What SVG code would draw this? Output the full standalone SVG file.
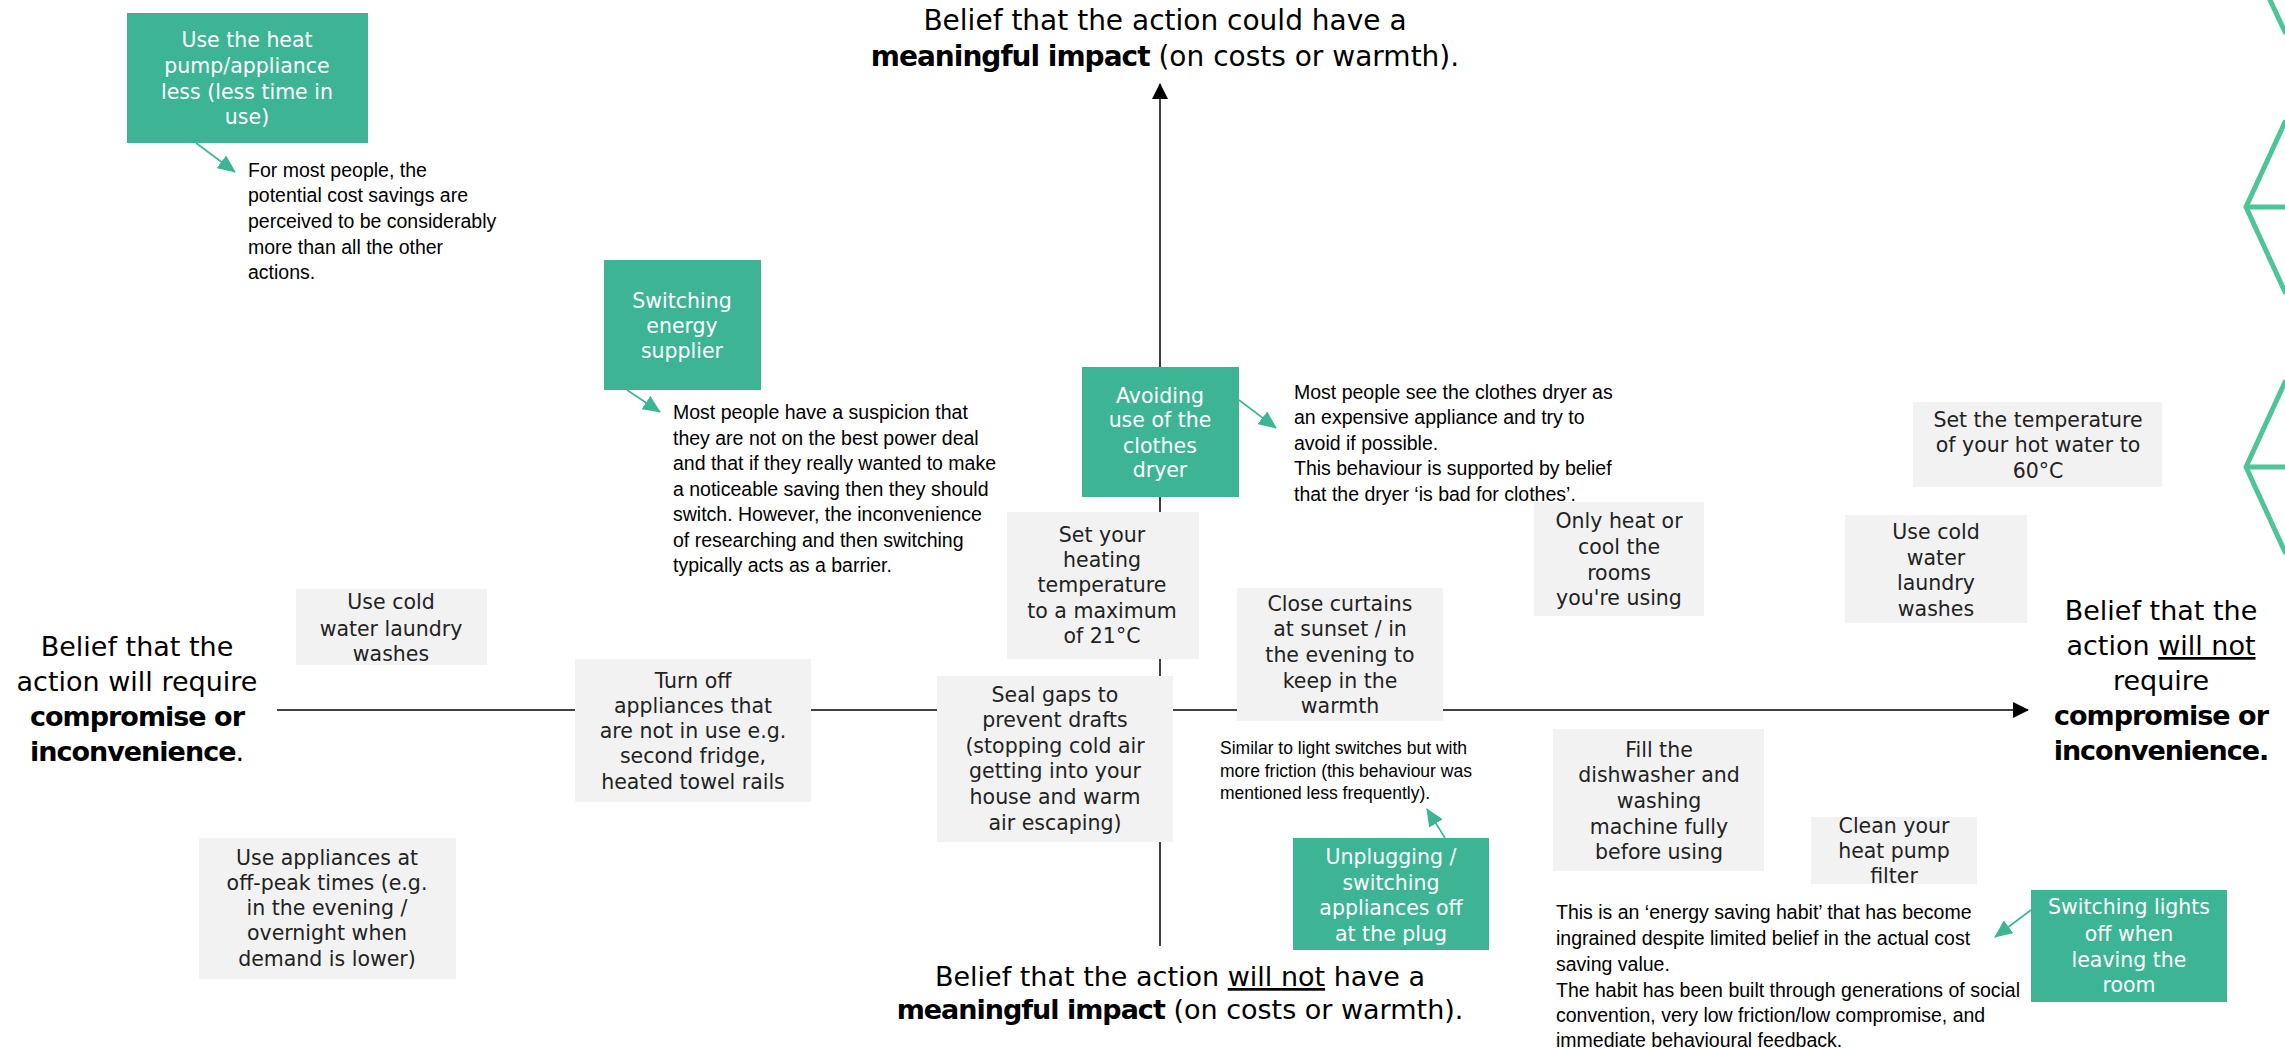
<svg xmlns="http://www.w3.org/2000/svg" width="2285" height="1049" viewBox="0 0 2285 1049">
<style>
.gbox{fill:#3DB595}
.nbox{fill:#F2F2F2}
.bt{font-family:"DejaVu Sans",sans-serif;font-size:20.5px;text-anchor:middle;fill:#222}
.gt{font-family:"DejaVu Sans",sans-serif;font-size:20.5px;text-anchor:middle;fill:#FFFFFF}
.ann{font-family:"Liberation Sans",Arial,sans-serif;font-size:19.5px;fill:#000}
.ann2{font-family:"Liberation Sans",Arial,sans-serif;font-size:17.5px;fill:#000}
.ax{font-family:"DejaVu Sans",sans-serif;font-size:27px;text-anchor:middle;fill:#000}
.axt{font-size:28px}
.b{font-weight:bold;letter-spacing:-1px}
.u{text-decoration:underline}
.axis{stroke:#404040;stroke-width:2;fill:none}
.conn{stroke:#3DB595;stroke-width:1.6;fill:none}
.hex{stroke:#4FC496;stroke-width:5;fill:none;stroke-linejoin:round;stroke-linecap:round}
</style>
<defs>
<marker id="ah" markerUnits="userSpaceOnUse" markerWidth="16" markerHeight="16" refX="15" refY="8" orient="auto">
<path d="M0,0 L16,8 L0,16 z" fill="#000"/>
</marker>
<marker id="gh" markerUnits="userSpaceOnUse" markerWidth="18" markerHeight="16" refX="17" refY="8" orient="auto">
<path d="M0,0 L18,8 L0,16 z" fill="#3DB595"/>
</marker>
</defs>
<rect width="2285" height="1049" fill="#FFFFFF"/>

<g id="decoration">
<path class="hex" d="M2270,0 L2285,32"/>
<path class="hex" d="M2285,122 L2246,207 L2285,292 M2246,207 L2285,207"/>
<path class="hex" d="M2285,382 L2246,467 L2285,552 M2246,467 L2285,467"/>
</g>

<g id="axes">
<line class="axis" x1="1160" y1="946" x2="1160" y2="84" marker-end="url(#ah)"/>
<line class="axis" x1="277" y1="710" x2="2028" y2="710" marker-end="url(#ah)"/>
</g>

<g id="label-top">
<text class="ax axt" x="1165" y="30">Belief that the action could have a</text>
<text class="ax axt" x="1165" y="66"><tspan class="b">meaningful impact</tspan> (on costs or warmth).</text>
</g>
<g id="label-bottom">
<text class="ax" x="1180" y="986">Belief that the action <tspan class="u">will not</tspan> have a</text>
<text class="ax" x="1180" y="1019"><tspan class="b">meaningful impact</tspan> (on costs or warmth).</text>
</g>
<g id="label-left">
<text class="ax" x="137" y="656">Belief that the</text>
<text class="ax" x="137" y="691">action will require</text>
<text class="ax b" x="137" y="726">compromise or</text>
<text class="ax" x="137" y="761"><tspan class="b">inconvenience</tspan>.</text>
</g>
<g id="label-right">
<text class="ax" x="2161" y="620">Belief that the</text>
<text class="ax" x="2161" y="655">action <tspan class="u">will not</tspan></text>
<text class="ax" x="2161" y="690">require</text>
<text class="ax b" x="2161" y="725">compromise or</text>
<text class="ax b" x="2161" y="760">inconvenience.</text>
</g>

<g id="connectors">
<line class="conn" x1="196" y1="143" x2="235" y2="172" marker-end="url(#gh)"/>
<line class="conn" x1="627" y1="390" x2="660" y2="412" marker-end="url(#gh)"/>
<line class="conn" x1="1239" y1="400" x2="1276" y2="428" marker-end="url(#gh)"/>
<line class="conn" x1="1445" y1="838" x2="1427" y2="809" marker-end="url(#gh)"/>
<line class="conn" x1="2031" y1="910" x2="1995" y2="937" marker-end="url(#gh)"/>
</g>

<g id="n-heatpump-less">
<rect class="gbox" x="127" y="13" width="241" height="130"/>
<text class="gt" x="247" y="47">Use the heat</text>
<text class="gt" x="247" y="73">pump/appliance</text>
<text class="gt" x="247" y="99">less (less time in</text>
<text class="gt" x="247" y="124">use)</text>
</g>
<g id="t-heatpump-less">
<text class="ann" x="248" y="177">For most people, the</text>
<text class="ann" x="248" y="202">potential cost savings are</text>
<text class="ann" x="248" y="228">perceived to be considerably</text>
<text class="ann" x="248" y="254">more than all the other</text>
<text class="ann" x="248" y="279">actions.</text>
</g>

<g id="n-switch-supplier">
<rect class="gbox" x="604" y="260" width="157" height="130"/>
<text class="gt" x="682" y="308">Switching</text>
<text class="gt" x="682" y="333">energy</text>
<text class="gt" x="682" y="358">supplier</text>
</g>
<g id="t-switch-supplier">
<text class="ann" x="673" y="419">Most people have a suspicion that</text>
<text class="ann" x="673" y="445">they are not on the best power deal</text>
<text class="ann" x="673" y="470">and that if they really wanted to make</text>
<text class="ann" x="673" y="496">a noticeable saving then they should</text>
<text class="ann" x="673" y="521">switch. However, the inconvenience</text>
<text class="ann" x="673" y="547">of researching and then switching</text>
<text class="ann" x="673" y="572">typically acts as a barrier.</text>
</g>

<g id="n-dryer">
<rect class="gbox" x="1082" y="367" width="157" height="130"/>
<text class="gt" x="1160" y="403">Avoiding</text>
<text class="gt" x="1160" y="427">use of the</text>
<text class="gt" x="1160" y="453">clothes</text>
<text class="gt" x="1160" y="477">dryer</text>
</g>
<g id="t-dryer">
<text class="ann" x="1294" y="399">Most people see the clothes dryer as</text>
<text class="ann" x="1294" y="424">an expensive appliance and try to</text>
<text class="ann" x="1294" y="450">avoid if possible.</text>
<text class="ann" x="1294" y="475">This behaviour is supported by belief</text>
<text class="ann" x="1294" y="501">that the dryer ‘is bad for clothes’.</text>
</g>

<g id="n-heating-21">
<rect class="nbox" x="1007" y="512" width="192" height="147"/>
<text class="bt" x="1102" y="542">Set your</text>
<text class="bt" x="1102" y="567">heating</text>
<text class="bt" x="1102" y="592">temperature</text>
<text class="bt" x="1102" y="618">to a maximum</text>
<text class="bt" x="1102" y="643">of 21°C</text>
</g>

<g id="n-seal-gaps">
<rect class="nbox" x="937" y="676" width="236" height="166"/>
<text class="bt" x="1055" y="702">Seal gaps to</text>
<text class="bt" x="1055" y="727">prevent drafts</text>
<text class="bt" x="1055" y="753">(stopping cold air</text>
<text class="bt" x="1055" y="778">getting into your</text>
<text class="bt" x="1055" y="804">house and warm</text>
<text class="bt" x="1055" y="830">air escaping)</text>
</g>

<g id="n-curtains">
<rect class="nbox" x="1237" y="588" width="206" height="133"/>
<text class="bt" x="1340" y="611">Close curtains</text>
<text class="bt" x="1340" y="636">at sunset / in</text>
<text class="bt" x="1340" y="662">the evening to</text>
<text class="bt" x="1340" y="688">keep in the</text>
<text class="bt" x="1340" y="713">warmth</text>
</g>

<g id="t-unplug">
<text class="ann2" x="1220" y="754">Similar to light switches but with</text>
<text class="ann2" x="1220" y="777">more friction (this behaviour was</text>
<text class="ann2" x="1220" y="799">mentioned less frequently).</text>
</g>
<g id="n-unplug">
<rect class="gbox" x="1293" y="838" width="196" height="112"/>
<text class="gt" x="1391" y="864">Unplugging /</text>
<text class="gt" x="1391" y="890">switching</text>
<text class="gt" x="1391" y="915">appliances off</text>
<text class="gt" x="1391" y="941">at the plug</text>
</g>

<g id="n-only-heat">
<rect class="nbox" x="1534" y="502" width="170" height="114"/>
<text class="bt" x="1619" y="528">Only heat or</text>
<text class="bt" x="1619" y="554">cool the</text>
<text class="bt" x="1619" y="580">rooms</text>
<text class="bt" x="1619" y="605">you're using</text>
</g>

<g id="n-hot-water-60">
<rect class="nbox" x="1913" y="402" width="249" height="85"/>
<text class="bt" x="2038" y="427">Set the temperature</text>
<text class="bt" x="2038" y="452">of your hot water to</text>
<text class="bt" x="2038" y="478">60°C</text>
</g>

<g id="n-cold-wash-right">
<rect class="nbox" x="1845" y="515" width="182" height="108"/>
<text class="bt" x="1936" y="539">Use cold</text>
<text class="bt" x="1936" y="565">water</text>
<text class="bt" x="1936" y="590">laundry</text>
<text class="bt" x="1936" y="616">washes</text>
</g>

<g id="n-cold-wash-left">
<rect class="nbox" x="296" y="589" width="191" height="76"/>
<text class="bt" x="391" y="609">Use cold</text>
<text class="bt" x="391" y="636">water laundry</text>
<text class="bt" x="391" y="661">washes</text>
</g>

<g id="n-turn-off">
<rect class="nbox" x="575" y="659" width="236" height="143"/>
<text class="bt" x="693" y="688">Turn off</text>
<text class="bt" x="693" y="713">appliances that</text>
<text class="bt" x="693" y="738">are not in use e.g.</text>
<text class="bt" x="693" y="763">second fridge,</text>
<text class="bt" x="693" y="789">heated towel rails</text>
</g>

<g id="n-off-peak">
<rect class="nbox" x="199" y="838" width="257" height="141"/>
<text class="bt" x="327" y="865">Use appliances at</text>
<text class="bt" x="327" y="890">off-peak times (e.g.</text>
<text class="bt" x="327" y="915">in the evening /</text>
<text class="bt" x="327" y="940">overnight when</text>
<text class="bt" x="327" y="966">demand is lower)</text>
</g>

<g id="n-dishwasher">
<rect class="nbox" x="1553" y="729" width="211" height="142"/>
<text class="bt" x="1659" y="757">Fill the</text>
<text class="bt" x="1659" y="782">dishwasher and</text>
<text class="bt" x="1659" y="808">washing</text>
<text class="bt" x="1659" y="834">machine fully</text>
<text class="bt" x="1659" y="859">before using</text>
</g>

<g id="n-filter">
<rect class="nbox" x="1811" y="817" width="166" height="67"/>
<text class="bt" x="1894" y="833">Clean your</text>
<text class="bt" x="1894" y="858">heat pump</text>
<text class="bt" x="1894" y="883">filter</text>
</g>

<g id="n-lights">
<rect class="gbox" x="2031" y="890" width="196" height="112"/>
<text class="gt" x="2129" y="914">Switching lights</text>
<text class="gt" x="2129" y="941">off when</text>
<text class="gt" x="2129" y="967">leaving the</text>
<text class="gt" x="2129" y="992">room</text>
</g>
<g id="t-lights">
<text class="ann" x="1556" y="919">This is an ‘energy saving habit’ that has become</text>
<text class="ann" x="1556" y="945">ingrained despite limited belief in the actual cost</text>
<text class="ann" x="1556" y="971">saving value.</text>
<text class="ann" x="1556" y="997">The habit has been built through generations of social</text>
<text class="ann" x="1556" y="1022">convention, very low friction/low compromise, and</text>
<text class="ann" x="1556" y="1047">immediate behavioural feedback.</text>
</g>
</svg>
